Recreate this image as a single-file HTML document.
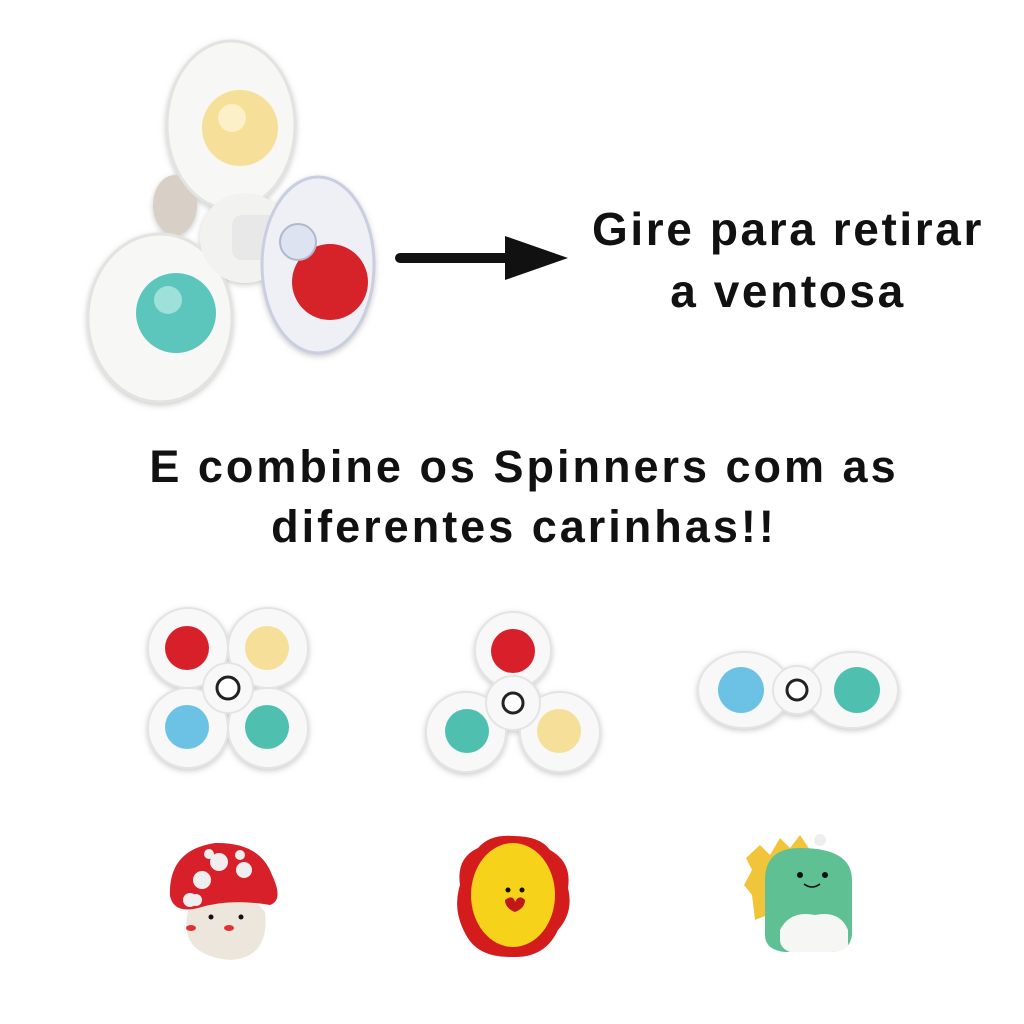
<!DOCTYPE html>
<html><head><style>
html,body{margin:0;padding:0;background:#fff;width:1024px;height:1024px;overflow:hidden}
svg{position:absolute;left:0;top:0}
.t{position:absolute;font-family:"Liberation Sans",sans-serif;font-weight:bold;color:#111;text-align:center;white-space:nowrap}
</style></head><body>
<svg width="1024" height="1024" viewBox="0 0 1024 1024">
<defs>
<filter id="s"><feDropShadow dx="0" dy="2" stdDeviation="3" flood-color="#999" flood-opacity="0.5"/></filter>
</defs>
<g filter="url(#s)">
<ellipse cx="175" cy="205" rx="22" ry="30" fill="#d8d0c6"/>
<ellipse cx="231" cy="125" rx="64" ry="84" fill="#f7f7f5" stroke="#e3e3e0" stroke-width="3"/>
<ellipse cx="160" cy="318" rx="72" ry="84" fill="#f7f7f5" stroke="#e3e3e0" stroke-width="3"/>
<circle cx="245" cy="238" r="45" fill="#f2f2f0"/>
<rect x="232" y="215" width="60" height="45" rx="10" fill="#e8e8e8"/>
<ellipse cx="318" cy="265" rx="56" ry="88" fill="#eef0f6" stroke="#c9cfe0" stroke-width="3"/>
</g>
<circle cx="240" cy="128" r="38" fill="#f6df98"/>
<circle cx="232" cy="118" r="14" fill="#fcf0c8"/>
<circle cx="176" cy="313" r="40" fill="#5cc6bd"/>
<circle cx="168" cy="300" r="14" fill="#9ee0da"/>
<circle cx="330" cy="282" r="38" fill="#d6232a"/>
<circle cx="298" cy="242" r="18" fill="#dde3f0" stroke="#b0b8cc" stroke-width="2"/>
<line x1="400" y1="258" x2="520" y2="258" stroke="#111" stroke-width="10" stroke-linecap="round"/>
<polygon points="505,236 568,258 505,280" fill="#111"/>
<g filter="url(#s)" fill="#f8f8f8" stroke="#e4e4e4" stroke-width="2">
<circle cx="188" cy="648" r="40"/><circle cx="268" cy="648" r="40"/>
<circle cx="188" cy="728" r="40"/><circle cx="268" cy="728" r="40"/>
<circle cx="228" cy="688" r="25"/>
</g>
<circle cx="187" cy="648" r="22" fill="#d8202a"/><circle cx="267" cy="648" r="22" fill="#f6df98"/>
<circle cx="187" cy="727" r="22" fill="#6cc2e4"/><circle cx="267" cy="727" r="22" fill="#4fc0b0"/>
<circle cx="228" cy="688" r="11" fill="#fff" stroke="#222" stroke-width="3"/>
<g filter="url(#s)" fill="#f8f8f8" stroke="#e4e4e4" stroke-width="2">
<circle cx="513" cy="650" r="38"/><circle cx="466" cy="732" r="40"/><circle cx="560" cy="732" r="40"/>
<circle cx="513" cy="703" r="27"/>
</g>
<circle cx="513" cy="651" r="22" fill="#d8202a"/><circle cx="467" cy="731" r="22" fill="#4fc0b0"/><circle cx="559" cy="731" r="22" fill="#f6df98"/>
<circle cx="513" cy="703" r="10" fill="#fff" stroke="#222" stroke-width="3"/>
<g filter="url(#s)" fill="#f8f8f8" stroke="#e4e4e4" stroke-width="2">
<ellipse cx="744" cy="690" rx="46" ry="38"/><ellipse cx="852" cy="690" rx="46" ry="38"/>
<circle cx="797" cy="690" r="24"/>
</g>
<circle cx="741" cy="690" r="23" fill="#6cc2e4"/><circle cx="857" cy="690" r="23" fill="#4fc0b0"/>
<circle cx="797" cy="690" r="10" fill="#fff" stroke="#222" stroke-width="3"/>
<path d="M188,912 Q178,955 230,960 Q270,958 265,912 Q250,892 226,893 Q195,894 188,912Z" fill="#ece6dd"/>
<path d="M170,896 Q168,850 215,843 Q260,842 272,875 Q284,900 270,905 Q230,898 198,908 Q174,914 170,896Z" fill="#d8202a"/>
<circle cx="219" cy="862" r="9" fill="#f0eeee"/><circle cx="202" cy="880" r="9" fill="#f0eeee"/>
<circle cx="244" cy="870" r="8" fill="#f0eeee"/><circle cx="190" cy="900" r="7" fill="#f0eeee"/><circle cx="209" cy="854" r="5" fill="#f0eeee"/>
<circle cx="196" cy="900" r="6" fill="#f0eeee"/><circle cx="240" cy="855" r="5" fill="#f0eeee"/>
<circle cx="211" cy="917" r="2.5" fill="#111"/><circle cx="241" cy="917" r="2.5" fill="#111"/>
<ellipse cx="191" cy="928" rx="5" ry="3" fill="#e03030"/><ellipse cx="229" cy="928" rx="5" ry="3" fill="#e03030"/>
<path d="M513,836 Q540,836 550,850 Q572,862 568,888 Q574,912 558,930 Q545,958 513,957 Q478,958 466,935 Q452,910 460,885 Q456,858 478,848 Q490,834 513,836Z" fill="#d41c1c"/>
<ellipse cx="513" cy="895" rx="42" ry="52" fill="#f7d21a"/>
<circle cx="508" cy="890" r="2.5" fill="#111"/><circle cx="522" cy="890" r="2.5" fill="#111"/>
<path d="M505,900 q8,-6 10,2 q4,-8 10,-2 q0,8 -10,12 q-10,-4 -10,-12z" fill="#c01818"/>
<path d="M760,845 L770,855 L780,838 L790,848 L800,835 L810,850 L805,900 L755,920 L752,895 L744,885 L752,870 L746,858Z" fill="#f1c53a"/>
<path d="M765,880 Q765,848 800,848 Q852,848 852,880 L852,935 Q850,952 830,952 L785,952 Q765,950 765,935Z" fill="#5fc094"/>
<path d="M780,930 Q790,910 815,915 Q840,910 848,930 L848,945 Q845,952 830,952 L790,952 Q780,948 780,940Z" fill="#f6f6f4"/>
<circle cx="820" cy="840" r="6" fill="#eee"/>
<circle cx="800" cy="875" r="3" fill="#111"/><circle cx="825" cy="875" r="3" fill="#111"/>
<path d="M804,884 q8,6 16,0" stroke="#111" fill="none" stroke-width="1.5"/>
</svg>
<div class="t" style="left:560px;top:198px;width:456px;font-size:46px;line-height:62px;letter-spacing:2.6px">Gire para retirar<br>a ventosa</div>
<div class="t" style="left:0;top:437px;width:1048px;font-size:45px;line-height:60px;letter-spacing:3px">E combine os Spinners com as<br>diferentes carinhas!!</div>
</body></html>
